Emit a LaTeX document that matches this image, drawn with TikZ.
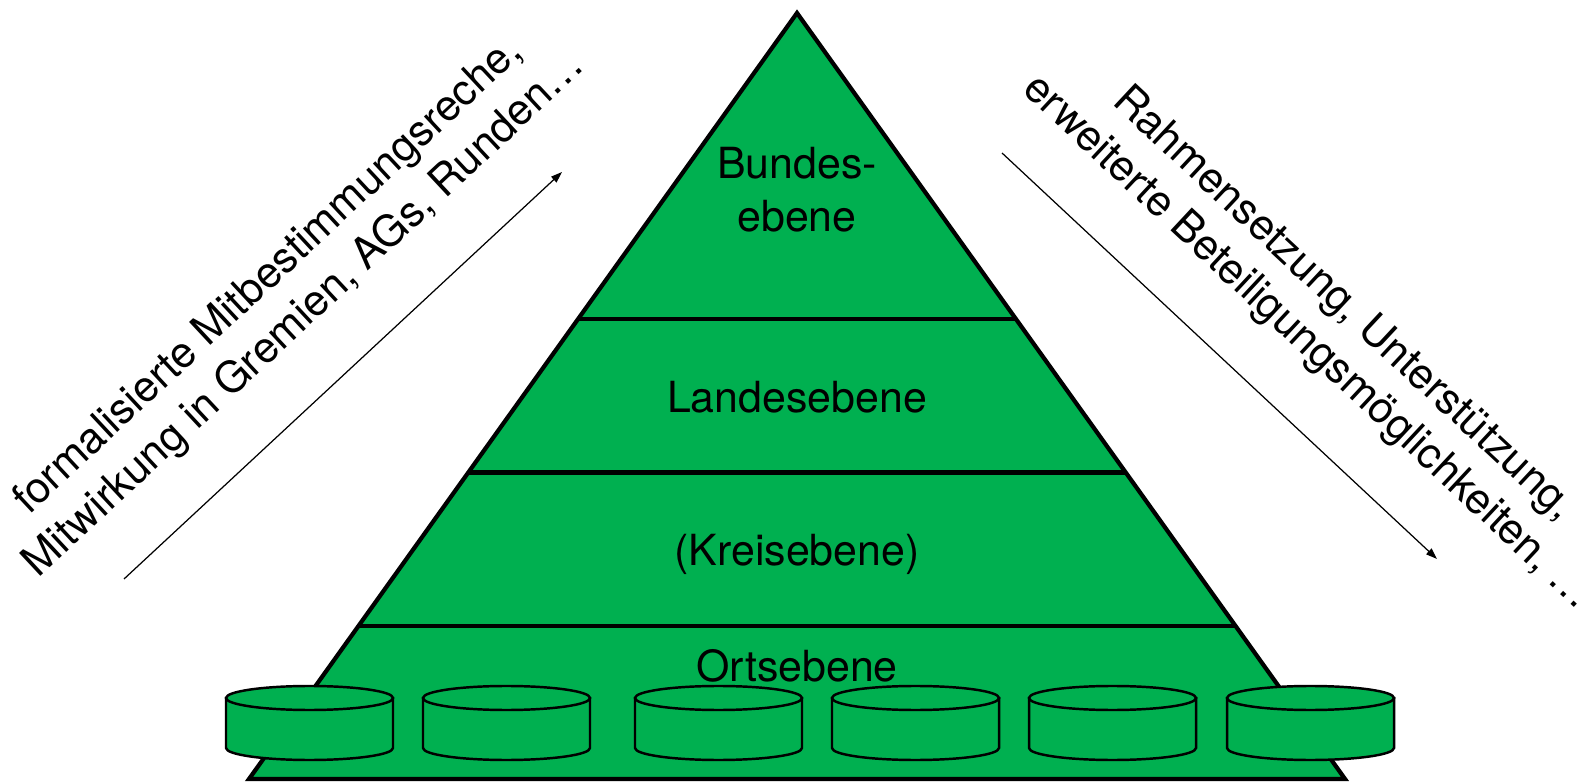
\documentclass[tikz,border=0pt]{standalone}
\usepackage{fontspec}
\setmainfont{TeX Gyre Heros}
\usepackage{xcolor}
\usepackage{tikz}
\usetikzlibrary{arrows.meta,calc}

\definecolor{levelgreen}{RGB}{0,176,80}

\begin{document}
\begin{tikzpicture}[x=0.01cm, y=-0.01cm, font=\fontsize{12.2}{15}\selectfont,
    pyramid/.style={draw=black, line width=1.2pt, fill=levelgreen},
    divider/.style={draw=black, line width=1.2pt},
    can/.style={draw=black, line width=0.7pt, fill=levelgreen},
    trend/.style={-{Triangle[length=3.2pt, width=2.2pt]}, line width=0.35pt},
    sidetext/.style={align=center, inner sep=0pt}]
    \useasboundingbox (0,0) rectangle (1595,783);

    % Pyramid
    \coordinate (top) at (797,13);
    \coordinate (bl) at (249,779);
    \coordinate (br) at (1345,779);
    \filldraw[pyramid] (top) -- (bl) -- (br) -- cycle;

    % Level dividers
    \foreach \t in {0.4,0.6,0.8}
        \draw[divider] ($(top)!\t!(bl)$) -- ($(top)!\t!(br)$);

    % Level labels
    \node[align=center] (bund) at (797,190) {Bundes-\\ebene};
    \node (land) at (797,397) {Landesebene};
    \node (kreis) at (797,554) {(Kreisebene)};
    \node (ort) at (797,666) {Ortsebene};

    % Local groups
    \foreach \cx in {309.5,506.5,718.5,915.5,1112.5,1310.5} {
        \filldraw[can] (\cx-83.5,698) -- (\cx-83.5,748)
            arc[start angle=180, end angle=0, x radius=83.5, y radius=12]
            -- (\cx+83.5,698) -- cycle;
        \filldraw[can] (\cx,698) ellipse[x radius=83.5, y radius=12];
    }

    % Upward arrow
    \coordinate (upfrom) at (124,579);
    \coordinate (upto) at (562,172);
    \draw[trend] (upfrom) -- (upto);
    \node[sidetext, rotate=43] (mitbest) at (287,296)
        {formalisierte Mitbestimmungsreche,\\Mitwirkung in Gremien, AGs, Runden…};

    % Downward arrow
    \coordinate (downfrom) at (1002,153);
    \coordinate (downto) at (1437,559);
    \draw[trend] (downfrom) -- (downto);
    \node[sidetext, rotate=-43] (rahmen) at (1325,324)
        {Rahmensetzung, Unterstützung,\\erweiterte Beteiligungsmöglichkeiten, …};
\end{tikzpicture}
\end{document}
